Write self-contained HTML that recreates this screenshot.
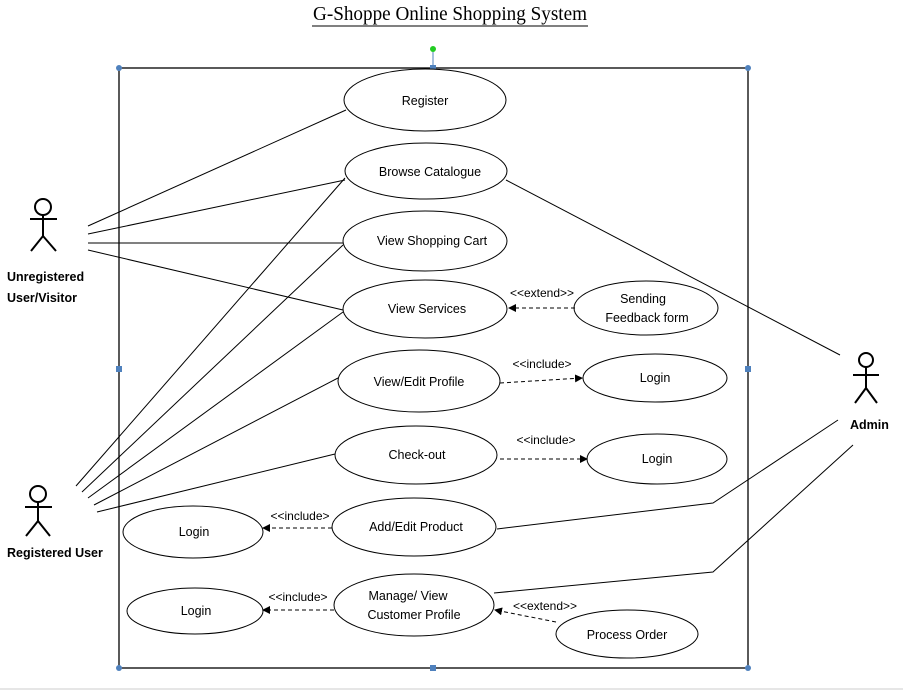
<!DOCTYPE html>
<html><head><meta charset="utf-8"><style>
html,body{margin:0;padding:0;background:#fff;}
svg{display:block;font-family:"Liberation Sans",sans-serif;}
</style></head><body>
<svg width="903" height="692" viewBox="0 0 903 692" xmlns="http://www.w3.org/2000/svg">
<defs>
<marker id="a" markerWidth="8" markerHeight="8" refX="7" refY="4" orient="auto" markerUnits="userSpaceOnUse"><path d="M0,0 L8,4 L0,8 z" fill="#000"/></marker>
</defs>
<text x="313" y="20" textLength="274" lengthAdjust="spacingAndGlyphs" font-family="Liberation Serif,serif" font-size="20">G-Shoppe Online Shopping System</text>
<line x1="312" y1="26" x2="588" y2="26" stroke="#000" stroke-width="1"/>
<rect x="119" y="68" width="629" height="600" fill="none" stroke="#000" stroke-width="1.3"/>
<line x1="433" y1="49" x2="433" y2="68" stroke="#4f81bd"/>
<circle cx="433" cy="49" r="3" fill="#22cc22"/>
<g fill="#4f81bd"><circle cx="119" cy="68" r="3"/><circle cx="748" cy="68" r="3"/><circle cx="119" cy="668" r="3"/><circle cx="748" cy="668" r="3"/>
<rect x="430" y="65" width="6" height="6"/><rect x="116" y="366" width="6" height="6"/><rect x="745" y="366" width="6" height="6"/><rect x="430" y="665" width="6" height="6"/></g>
<g stroke="#000" stroke-width="1" fill="none">
<line x1="88" y1="226" x2="346" y2="110"/><line x1="88" y1="234" x2="345" y2="180"/><line x1="88" y1="243" x2="343" y2="243"/><line x1="88" y1="250" x2="343" y2="310"/>
<line x1="76" y1="486" x2="345" y2="178"/><line x1="82" y1="492" x2="343" y2="245"/><line x1="88" y1="498" x2="343" y2="312"/><line x1="94" y1="505" x2="338" y2="378"/><line x1="97" y1="512" x2="335" y2="454"/>
<line x1="506" y1="180" x2="840" y2="355"/><polyline points="838,420 713,503 497,529"/><polyline points="853,445 713,572 494,593"/>
</g>
<g stroke="#000" stroke-width="1" fill="#fff">
<ellipse cx="425" cy="100" rx="81" ry="31"/><ellipse cx="426" cy="171" rx="81" ry="28"/><ellipse cx="425" cy="241" rx="82" ry="30"/><ellipse cx="425" cy="309" rx="82" ry="29"/>
<ellipse cx="646" cy="308" rx="72" ry="27"/><ellipse cx="419" cy="381" rx="81" ry="31"/><ellipse cx="655" cy="378" rx="72" ry="24"/><ellipse cx="416" cy="455" rx="81" ry="29"/>
<ellipse cx="657" cy="459" rx="70" ry="25"/><ellipse cx="414" cy="527" rx="82" ry="29"/><ellipse cx="193" cy="532" rx="70" ry="26"/><ellipse cx="414" cy="605" rx="80" ry="31"/>
<ellipse cx="195" cy="611" rx="68" ry="23"/><ellipse cx="627" cy="634" rx="71" ry="24"/>
</g>
<g stroke="#000" stroke-width="1" stroke-dasharray="4,3" fill="none" marker-end="url(#a)">
<line x1="575" y1="308" x2="509" y2="308"/><line x1="500" y1="383" x2="582" y2="378"/><line x1="500" y1="459" x2="587" y2="459"/>
<line x1="332" y1="528" x2="263" y2="528"/><line x1="334" y1="610" x2="263" y2="610"/><line x1="556" y1="622" x2="495" y2="610"/>
</g>
<g font-size="12.5" text-anchor="middle" fill="#000">
<text x="425" y="105">Register</text><text x="430" y="176">Browse Catalogue</text><text x="432" y="245">View Shopping Cart</text><text x="427" y="313">View Services</text>
<text x="643" y="303">Sending</text><text x="647" y="322">Feedback form</text><text x="419" y="386">View/Edit Profile</text><text x="655" y="382">Login</text>
<text x="417" y="459">Check-out</text><text x="657" y="463">Login</text><text x="416" y="531">Add/Edit Product</text><text x="194" y="536">Login</text>
<text x="408" y="600">Manage/ View</text><text x="414" y="619">Customer Profile</text><text x="196" y="615">Login</text><text x="627" y="639">Process Order</text>
</g>
<g font-size="12" text-anchor="middle">
<text x="542" y="297">&lt;&lt;extend&gt;&gt;</text><text x="542" y="368">&lt;&lt;include&gt;</text><text x="546" y="444">&lt;&lt;include&gt;</text>
<text x="300" y="520">&lt;&lt;include&gt;</text><text x="298" y="601">&lt;&lt;include&gt;</text><text x="545" y="610">&lt;&lt;extend&gt;&gt;</text>
</g>
<g stroke="#000" stroke-width="2" fill="none">
<circle cx="43" cy="207" r="8"/><line x1="43" y1="215" x2="43" y2="236"/><line x1="30" y1="219" x2="57" y2="219"/><polyline points="31,251 43,236 56,251"/>
<circle cx="38" cy="494" r="8"/><line x1="38" y1="502" x2="38" y2="521"/><line x1="25" y1="507" x2="52" y2="507"/><polyline points="26,536 38,521 50,536"/>
<circle cx="866" cy="360" r="7"/><line x1="866" y1="367" x2="866" y2="388"/><line x1="853" y1="375" x2="879" y2="375"/><polyline points="855,403 866,388 877,403"/>
</g>
<g font-size="12.5" font-weight="bold">
<text x="7" y="281">Unregistered</text><text x="7" y="302">User/Visitor</text><text x="7" y="557">Registered User</text><text x="850" y="429">Admin</text>
</g>
<line x1="0" y1="689" x2="903" y2="689" stroke="#ccc"/>
</svg>
</body></html>
